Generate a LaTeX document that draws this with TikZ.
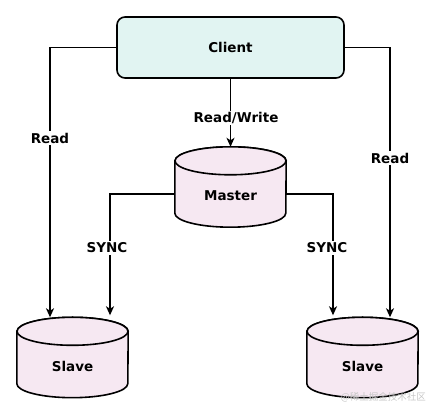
\documentclass[tikz,border=0pt]{standalone}
\usepackage{fontspec}
\setmainfont{DejaVu Sans}
\newfontfamily\cjkfont{Noto Sans CJK SC}
\usetikzlibrary{arrows.meta,calc}
\definecolor{clientfill}{RGB}{225,244,242}
\definecolor{dbfill}{RGB}{246,232,242}
\tikzset{
  x=1pt,y=1pt,
  lbl/.style={font=\bfseries\fontsize{13.5}{15}\selectfont,inner sep=1.5pt},
  edgelbl/.style={lbl,fill=white},
  conn/.style={line width=1.4pt,-{Stealth[length=9pt,width=8pt,inset=2.5pt]}},
  cylbox/.style={draw=none,minimum width=111pt,minimum height=80pt,inner sep=0pt},
  cylline/.style={line width=1.6pt,fill=dbfill},
  clientbox/.style={draw,line width=1.6pt,fill=clientfill,rounded corners=8pt,minimum width=227pt,minimum height=61pt,inner sep=0pt},
}
\begin{document}
\begin{tikzpicture}
\useasboundingbox (0,0) rectangle (437,414);
% Client
\node[clientbox] (client) at (230.5,366.5) {};
\node[lbl] (clienttxt) at (client.center) {Client};
% cylinders
\foreach \nm/\cx/\cy/\txt in {master/230.5/227/Master, slaveL/72.5/56.5/Slave, slaveR/362.5/56.5/Slave}{
  \node[cylbox] (\nm) at (\cx,\cy) {};
  \draw[cylline] ([yshift=-14pt]\nm.north west) -- ([yshift=14pt]\nm.south west)
     arc[start angle=180,end angle=360,x radius=55.5pt,y radius=14pt]
     -- ([yshift=-14pt]\nm.north east)
     arc[start angle=0,end angle=180,x radius=55.5pt,y radius=14pt] -- cycle;
  \draw[cylline] ([yshift=-14pt]\nm.north) ellipse[x radius=55.5pt,y radius=14pt];
  \node[lbl] (\nm txt) at ([yshift=-9pt]\nm.center) {\txt};
}
% connectors
\coordinate (mL) at ([yshift=-7pt]master.west);
\coordinate (mR) at ([yshift=-7pt]master.east);
\draw[conn] (client.south) -- (master.north);
\node[edgelbl] (rw) at (236,296) {Read/Write};
\draw[conn] (client.west) -| ([xshift=-22.5pt]slaveL.north);
\node[edgelbl] (readL) at (50,276) {Read};
\draw[conn] (client.east) -| ([xshift=27.5pt]slaveR.north);
\node[edgelbl] (readR) at (390,256) {Read};
\draw[conn,shorten >=2pt] (mL) -| ([xshift=37.5pt]slaveL.north);
\node[edgelbl] (syncL) at (107,166) {SYNC};
\draw[conn,shorten >=2pt] (mR) -| ([xshift=-29.5pt]slaveR.north);
\node[edgelbl] (syncR) at (327,166) {SYNC};
% watermark
\node[anchor=east,text=gray!45,font=\cjkfont\fontsize{9.5}{11}\selectfont,inner sep=0pt] (wm) at (426,17) {@稀土掘金技术社区};
\end{tikzpicture}
\end{document}
